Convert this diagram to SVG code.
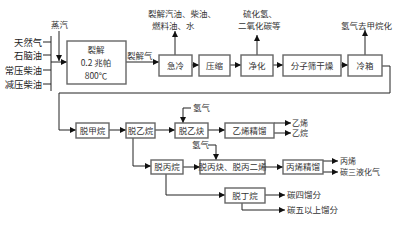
<svg xmlns="http://www.w3.org/2000/svg" width="400" height="226" viewBox="0 0 400 226">
<defs>
<marker id="ah" viewBox="0 0 6 6" refX="6" refY="3" markerWidth="6" markerHeight="6" orient="auto" markerUnits="userSpaceOnUse">
<path d="M0,0 L6,3 L0,6 z" fill="#111"/>
</marker>
<style>
.box{fill:#fff;stroke:#666;stroke-width:1.4}
.t{font-family:"Noto Sans CJK SC","Liberation Sans",sans-serif;font-size:8.5px;fill:#333}
.s{font-size:8px}
.f{font-family:"Noto Sans CJK SC","Liberation Serif",serif;font-size:9.3px;fill:#222}
.c{text-anchor:middle}
.ln{fill:none;stroke:#222;stroke-width:1}
.a{fill:none;stroke:#222;stroke-width:1;marker-end:url(#ah)}
</style>
</defs>
<rect width="400" height="226" fill="#fff"/>
<g id="feeds">
<text class="f" x="42" y="45.5" text-anchor="end">天然气</text>
<text class="f" x="42" y="59" text-anchor="end">石脑油</text>
<text class="f" x="42" y="73.5" text-anchor="end">常压柴油</text>
<text class="f" x="42" y="87.5" text-anchor="end">减压柴油</text>
<text class="t" x="51" y="28">蒸汽</text>
</g>
<g id="connectors">
<path class="ln" d="M51,36 V91"/>
<path class="ln" d="M43,42 H51 M43,55 H51 M43,70 H51 M43,84 H51"/>
<path class="a" d="M59,31 V61"/>
<path class="a" d="M51,62 H67"/>
<path class="a" d="M126,62 H159"/>
<path class="a" d="M192,65 H199"/>
<path class="a" d="M230,65 H241"/>
<path class="a" d="M273,65 H283"/>
<path class="a" d="M341,65 H348"/>
<path class="a" d="M175,55 V31"/>
<path class="a" d="M257,55 V35"/>
<path class="a" d="M365,55 V30"/>
<path class="ln" d="M382,66 H390 V93 H59 V130"/>
<path class="a" d="M59,130 H76"/>
<path class="a" d="M109,130 H126"/>
<path class="a" d="M155,130 H175"/>
<path class="a" d="M208,130 H225"/>
<path class="a" d="M191,108 H183 V123"/>
<path class="a" d="M274,123 H291"/>
<path class="a" d="M274,133 H291"/>
<path class="a" d="M133,138 V166 H151"/>
<path class="a" d="M183,167 H200"/>
<path class="a" d="M208,145 H216 V160"/>
<path class="a" d="M265,167 H283"/>
<path class="a" d="M323,161 H338"/>
<path class="a" d="M323,172 H338"/>
<path class="a" d="M166,174 V195 H225"/>
<path class="a" d="M265,195 H285"/>
<path class="ln" d="M242,203 V210"/>
<path class="a" d="M242,210 H285"/>
</g>
<g id="crack">
<rect class="box" x="67" y="41" width="59" height="43"/>
<text class="t c" x="96" y="53">裂解</text>
<text class="t c" x="96" y="66">0.2 兆帕</text>
<text class="t c" x="96" y="79">800℃</text>
</g>
<text class="t" x="127" y="59">裂解气</text>
<g id="quench">
<rect class="box" x="159" y="55" width="33" height="21"/>
<text class="t c" x="175.5" y="68.5">急冷</text>
</g>
<text class="t" x="148" y="17">裂解汽油、柴油、</text>
<text class="t" x="152" y="29">燃料油、水</text>
<g id="compress">
<rect class="box" x="199" y="55" width="31" height="21"/>
<text class="t c" x="214.5" y="68.5">压缩</text>
</g>
<g id="purify">
<rect class="box" x="241" y="55" width="32" height="21"/>
<text class="t c" x="257" y="68.5">净化</text>
</g>
<text class="t" x="243" y="17">硫化氢、</text>
<text class="t" x="238" y="29">二氧化碳等</text>
<g id="dry">
<rect class="box" x="283" y="55" width="58" height="21"/>
<text class="t c" x="312" y="68.5">分子筛干燥</text>
</g>
<g id="coldbox">
<rect class="box" x="348" y="55" width="34" height="21"/>
<text class="t c" x="365" y="68.5">冷箱</text>
</g>
<text class="t" x="341" y="29">氢气去甲烷化</text>
<g id="demethanizer">
<rect class="box" x="76" y="123" width="33" height="15"/>
<text class="t c" x="92.5" y="133.5">脱甲烷</text>
</g>
<g id="deethanizer">
<rect class="box" x="126" y="123" width="29" height="15"/>
<text class="t c" x="140.5" y="133.5">脱乙烷</text>
</g>
<g id="deacetylene">
<rect class="box" x="175" y="123" width="33" height="15"/>
<text class="t c" x="191.5" y="133.5">脱乙炔</text>
</g>
<text class="t" x="193" y="111">氢气</text>
<g id="ethylene">
<rect class="box" x="225" y="123" width="49" height="15"/>
<text class="t c" x="249.5" y="133.5">乙烯精馏</text>
</g>
<text class="t s" x="292" y="125.5">乙烯</text>
<text class="t s" x="292" y="136">乙烷</text>
<g id="depropanizer">
<rect class="box" x="151" y="160" width="32" height="14"/>
<text class="t c" x="167" y="170">脱丙烷</text>
</g>
<text class="t" x="192" y="148">氢气</text>
<g id="depropyne">
<rect class="box" x="200" y="160" width="65" height="14"/>
<text class="t c" x="232.5" y="170">脱丙炔、脱丙二烯</text>
</g>
<g id="propylene">
<rect class="box" x="283" y="160" width="40" height="14"/>
<text class="t c" x="303" y="170">丙烯精馏</text>
</g>
<text class="t s" x="340" y="163.5">丙烯</text>
<text class="t s" x="340" y="175">碳三液化气</text>
<g id="debutanizer">
<rect class="box" x="225" y="188" width="40" height="15"/>
<text class="t c" x="245" y="198.5">脱丁烷</text>
</g>
<text class="t" x="287" y="198">碳四馏分</text>
<text class="t" x="287" y="213">碳五以上馏分</text>
</svg>
